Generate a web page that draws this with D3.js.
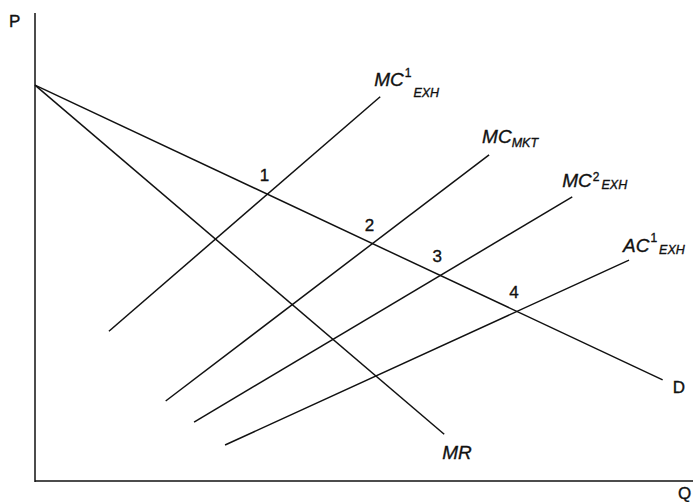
<!DOCTYPE html>
<html><head><meta charset="utf-8">
<script src="https://cdn.jsdelivr.net/npm/d3@7"></script>
<style>
html,body{margin:0;padding:0;background:#fff;}
svg text{font-family:"Liberation Sans",Arial,Helvetica,sans-serif;fill:#111;stroke:#111;stroke-width:0.35px;}
</style></head>
<body><svg id="c" width="695" height="502"></svg>
<script>
// Data (Q, P) in arbitrary units, 0..100 on each axis
const demand   = [[0, 84.6], [95.1, 21.6]];
const marginalRevenue = [[0, 84.6], [62.0, 10.0]];
const mcExh1   = [[11.2, 32.0], [52.3, 82.1]];
const mcMkt    = [[19.8, 17.1], [68.8, 69.7]];
const mcExh2   = [[24.1, 12.6], [81.4, 60.7]];
const acExh1   = [[28.8, 7.7], [90.0, 47.2]];
const intersectionLabels = ["1", "2", "3", "4"];
const axisLabels = ["P", "Q"];

const svg = d3.select("#c");
const x = d3.scaleLinear().domain([0, 100]).range([35, 695]);
const y = d3.scaleLinear().domain([0, 100]).range([481, 13]);

// axes
svg.append("line").attr("x1", x(0)).attr("x2", x(0)).attr("y1", y(100)).attr("y2", y(0) + 1)
  .attr("stroke", "#111").attr("stroke-width", 1.5);
svg.append("line").attr("x1", x(0)).attr("x2", x(99.7)).attr("y1", y(0)).attr("y2", y(0))
  .attr("stroke", "#111").attr("stroke-width", 1.5);
svg.append("text").attr("x", 9).attr("y", 27).attr("font-size", 17).text(axisLabels[0]);
svg.append("text").attr("x", 678).attr("y", 499).attr("font-size", 17).text(axisLabels[1]);

const line = d3.line().x(d => x(d[0])).y(d => y(d[1]));
const curves = [demand, marginalRevenue, mcExh1, mcMkt, mcExh2, acExh1];
svg.selectAll("path.curve").data(curves).enter().append("path")
  .attr("class", "curve").attr("d", line)
  .attr("fill", "none").attr("stroke", "#111").attr("stroke-width", 1.5);

// curve labels
function label(pt, dx, dy, main, sup, sub, supDy, subDy, italic) {
  const t = svg.append("text").attr("x", x(pt[0]) + dx).attr("y", y(pt[1]) + dy)
    .attr("font-size", italic ? 19 : 17).attr("font-style", italic ? "italic" : "normal");
  t.append("tspan").text(main);
  let cur = 0;
  if (sup) { t.append("tspan").attr("font-size", 12).attr("font-style", "normal").attr("dx", 1).attr("dy", supDy).text(sup); cur = supDy; }
  if (sub) { t.append("tspan").attr("font-size", 12.5).attr("dx", sup ? 2 : 0).attr("dy", subDy - cur).text(sub); }
}
label(mcExh1[1], -6, -11, "MC", "1", "EXH", -9, 11, true);
label(mcMkt[1], -7, -12, "MC", null, "MKT", 0, 4, true);
label(mcExh2[1], -10, -10, "MC", "2", "EXH", -6, 2, true);
label(acExh1[1], -6, -8, "AC", "1", "EXH", -10, 2, true);
label(demand[1], 10, 13, "D", null, null, 0, 0, false);
label(marginalRevenue[1], -2, 25, "MR", null, null, 0, 0, true);

// intersection numbers
function intersect(a, b) {
  const [p1, p2] = a, [p3, p4] = b;
  const m1 = (p2[1] - p1[1]) / (p2[0] - p1[0]);
  const m2 = (p4[1] - p3[1]) / (p4[0] - p3[0]);
  const xi = (p3[1] - p1[1] + m1 * p1[0] - m2 * p3[0]) / (m1 - m2);
  return [xi, p1[1] + m1 * (xi - p1[0])];
}
[mcExh1, mcMkt, mcExh2, acExh1].forEach((s, i) => {
  const p = intersect(demand, s);
  svg.append("text").attr("x", x(p[0]) - 3).attr("y", y(p[1]) - 13)
    .attr("font-size", 17).attr("text-anchor", "middle").text(intersectionLabels[i]);
});
</script></body></html>
